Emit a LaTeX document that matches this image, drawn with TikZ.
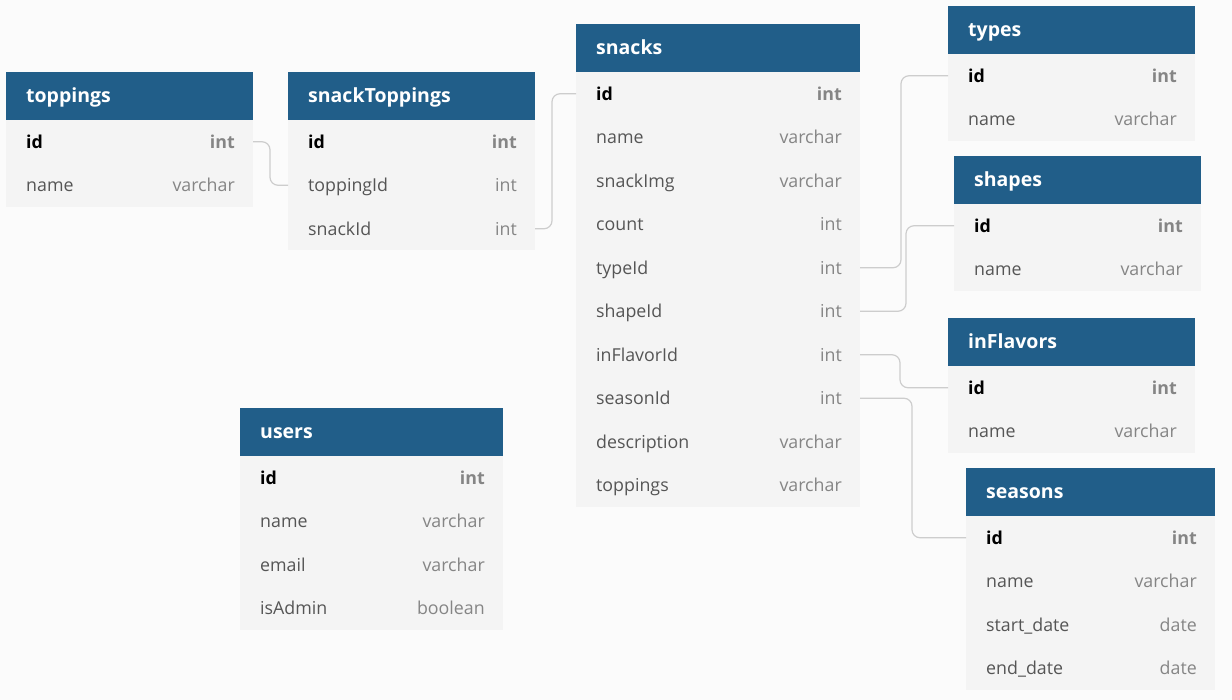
\documentclass[tikz,border=0pt]{standalone}
\usepackage{fontspec}
\setmainfont{Open Sans}
\definecolor{hdrblue}{HTML}{215E89}
\definecolor{bodyfill}{HTML}{F4F4F4}
\definecolor{bgfill}{HTML}{FBFBFB}
\definecolor{fieldtxt}{HTML}{555555}
\definecolor{typetxt}{HTML}{858585}
\definecolor{conncol}{HTML}{CDCDCD}
\tikzset{
  hdr/.style={rectangle, fill=hdrblue, minimum height=48pt, inner sep=0pt, outer sep=0pt},
  hdrtext/.style={text=white, font=\fontsize{19.5}{22}\selectfont\bfseries, inner sep=0pt},
  tabrow/.style={rectangle, fill=bodyfill, minimum height=43.5pt, inner sep=0pt, outer sep=0pt},
  fieldtext/.style={text=fieldtxt, font=\fontsize{17.8}{20}\selectfont, inner sep=0pt},
  typetext/.style={text=typetxt, font=\fontsize{17.8}{20}\selectfont, inner sep=0pt},
  conn/.style={draw=conncol, line width=1.2pt, rounded corners=8pt},
}
\newcommand\erdtab[6]{%
  \node[hdr, minimum width=#5, anchor=north west] (#1) at (#3,#4) {};
  \node[hdrtext, anchor=base west] (#1-title) at ([xshift=20pt, yshift=-6.8pt]#1.west) {#2};
  \foreach \k/\f/\t [count=\i] in {#6} {
    \ifnum\i=1
      \node[tabrow, minimum width=#5, anchor=north west] (#1-\k) at ({#3},{#4+48+(\i-1)*43.5}) {};
      \node[fieldtext, text=black, font=\fontsize{17.8}{20}\selectfont\bfseries, anchor=base west] (#1-\k-f) at ([xshift=20pt, yshift=-6.3pt]#1-\k.west) {\f};
      \node[typetext, font=\fontsize{17.8}{20}\selectfont\bfseries, anchor=base east] (#1-\k-t) at ([xshift=-18pt, yshift=-6.3pt]#1-\k.east) {\t};
    \else
      \node[tabrow, minimum width=#5, anchor=north west] (#1-\k) at ({#3},{#4+48+(\i-1)*43.5}) {};
      \node[fieldtext, anchor=base west] (#1-\k-f) at ([xshift=20pt, yshift=-6.3pt]#1-\k.west) {\f};
      \node[typetext, anchor=base east] (#1-\k-t) at ([xshift=-18pt, yshift=-6.3pt]#1-\k.east) {\t};
    \fi
  }%
}
\begin{document}
\begin{tikzpicture}[x=1pt, y=-1pt]
\fill[bgfill] (0,0) rectangle (1232,700);
\useasboundingbox (0,0) rectangle (1232,700);

\erdtab{toppings}{toppings}{6}{72}{247pt}{id/id/int, name/name/varchar}
\erdtab{snackToppings}{snackToppings}{288}{72}{247pt}{id/id/int, toppingId/toppingId/int, snackId/snackId/int}
\erdtab{snacks}{snacks}{576}{24}{284pt}{id/id/int, name/name/varchar, snackImg/snackImg/varchar, count/count/int, typeId/typeId/int, shapeId/shapeId/int, inFlavorId/inFlavorId/int, seasonId/seasonId/int, description/description/varchar, toppings/toppings/varchar}
\erdtab{types}{types}{948}{6}{247pt}{id/id/int, name/name/varchar}
\erdtab{shapes}{shapes}{954}{156}{247pt}{id/id/int, name/name/varchar}
\erdtab{inFlavors}{inFlavors}{948}{318}{247pt}{id/id/int, name/name/varchar}
\erdtab{seasons}{seasons}{966}{468}{249pt}{id/id/int, name/name/varchar, start/start\_date/date, end/end\_date/date}
\erdtab{users}{users}{240}{408}{263pt}{id/id/int, name/name/varchar, email/email/varchar, isAdmin/isAdmin/boolean}

\draw[conn] (toppings-id.east) -- ++(17,0) |- (snackToppings-toppingId.west);
\draw[conn] (snackToppings-snackId.east) -- ++(17,0) |- (snacks-id.west);
\draw[conn] (snacks-typeId.east) -- ++(41,0) |- (types-id.west);
\draw[conn] (snacks-shapeId.east) -- ++(46,0) |- (shapes-id.west);
\draw[conn] (snacks-inFlavorId.east) -- ++(40,0) |- (inFlavors-id.west);
\draw[conn] (snacks-seasonId.east) -- ++(52,0) |- (seasons-id.west);
\end{tikzpicture}
\end{document}
